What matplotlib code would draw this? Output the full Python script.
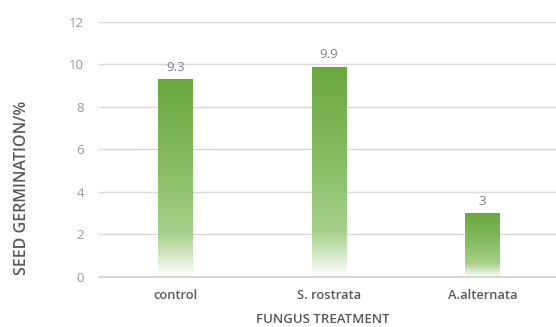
import numpy as np
import matplotlib
matplotlib.use("Agg")
import matplotlib.pyplot as plt
from matplotlib.colors import LinearSegmentedColormap
from matplotlib.patches import Rectangle

categories = ["control", "S. rostrata", "A.alternata"]
germination = [9.3, 9.9, 3]
value_labels = ["9.3", "9.9", "3"]
y_ticks = [0, 2, 4, 6, 8, 10, 12]

plt.rcParams["font.family"] = ["Open Sans", "DejaVu Sans"]

fig = plt.figure(figsize=(5.56, 3.27), dpi=100)
ax = fig.add_axes([0.178, 0.153, 0.828, 0.78])

# vertical green-to-white gradient used inside every bar
grad_cmap = LinearSegmentedColormap.from_list(
    "bar_grad",
    [(0.0, "#ffffff"), (0.22, "#a6d08a"), (0.55, "#86bd62"), (1.0, "#69a83f")],
)
gradient = np.linspace(0, 1, 256).reshape(-1, 1)

bar_w = 0.225
x = np.arange(len(categories))
for xi, val, lab in zip(x, germination, value_labels):
    rect = Rectangle((xi - bar_w / 2, 0), bar_w, val, facecolor="none", edgecolor="none")
    ax.add_patch(rect)
    im = ax.imshow(gradient, cmap=grad_cmap, aspect="auto", origin="lower",
                   extent=(xi - bar_w / 2, xi + bar_w / 2, 0, val), zorder=2)
    im.set_clip_path(rect)
    ax.text(xi, val + 0.25, lab, ha="center", va="bottom", fontsize=9.5, color="#7f7f7f")

ax.set_xlim(-0.5, 2.5)
ax.set_ylim(0, 12)
ax.set_yticks(y_ticks)
ax.set_yticklabels([str(t) for t in y_ticks])
ax.set_xticks(x)
ax.set_xticklabels(categories, fontsize=9.3, color="#595959", fontweight="semibold")
ax.tick_params(axis="y", labelsize=9.5, colors="#999999", length=0, pad=11)
ax.tick_params(axis="x", length=0, pad=9)

ax.grid(axis="y", color="#d9d9d9", linewidth=1)
ax.set_axisbelow(True)
for s in ["top", "right", "left"]:
    ax.spines[s].set_visible(False)
ax.spines["bottom"].set_color("#d0d0d0")
ax.spines["bottom"].set_linewidth(1.2)

fig.text(0.581, 0.022, "FUNGUS TREATMENT", ha="center", va="center",
         fontsize=9.5, color="#595959", fontweight="semibold")
fig.text(0.04, 0.425, "SEED GERMINATION/%", ha="center", va="center", rotation=90,
         fontsize=11.5, color="#595959", fontweight="semibold")

fig.savefig("out.png", dpi=100)
